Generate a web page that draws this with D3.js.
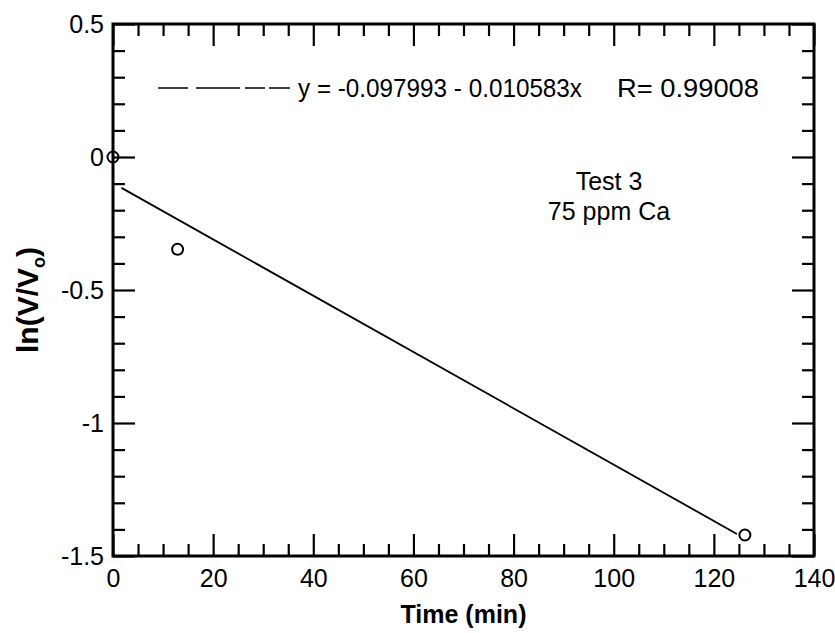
<!DOCTYPE html>
<html>
<head>
<meta charset="utf-8">
<script src="https://cdn.jsdelivr.net/npm/d3@7/dist/d3.min.js"></script>
<style>
  body { margin: 0; background: #fff; }
  svg { font-family: "Liberation Sans", Arial, sans-serif; }
</style>
</head>
<body>
<div id="chart"></div>
<script>
// measured points
const timeMin = [0, 12.9, 126.2];
const lnRatio = [0, -0.347, -1.421];

// fitted line ends
const fitX = [1.7, 124.6];
const fitY = [-0.116, -1.417];

const xTicks = [0, 20, 40, 60, 80, 100, 120, 140];
const yTicks = [0.5, 0, -0.5, -1, -1.5];
const eqText = 'y = -0.097993 - 0.010583x';
const rText = 'R= 0.99008';
const noteLines = ['Test 3', '75 ppm Ca'];

const width = 835, height = 633;
const margin = { top: 24, right: 21, bottom: 77, left: 113 };

const svg = d3.select('#chart').append('svg')
  .attr('width', width)
  .attr('height', height);

const x = d3.scaleLinear().domain([0, 140]).range([margin.left, width - margin.right]);
const y = d3.scaleLinear().domain([-1.5, 0.5]).range([height - margin.bottom, margin.top]);

const minorX = d3.range(0, 141, 5).filter(v => v % 20 !== 0);
const minorY = d3.range(-15, 6, 1).filter(v => v % 5 !== 0).map(v => v / 10);

const majorLen = 22, minorLen = 12;

// ticks, all pointing inward
function tickAxis(axis, side, ticks, len, pad) {
  const g = svg.append('g')
    .attr('transform', side === 'bottom' ? `translate(0,${y(-1.5)})`
      : side === 'top' ? `translate(0,${y(0.5)})`
      : side === 'left' ? `translate(${x(0)},0)` : `translate(${x(140)},0)`)
    .call(axis.tickValues(ticks).tickSizeInner(-len).tickSizeOuter(0).tickPadding(pad || 0)
      .tickFormat(pad ? d => String(d) : () => ''));
  g.select('.domain').remove();
  g.attr('font-family', null);
  g.selectAll('.tick line').attr('stroke', '#000').attr('stroke-width', 2.2);
  g.selectAll('.tick text').attr('fill', '#000').style('font-size', '25px');
  return g;
}

tickAxis(d3.axisBottom(x), 'bottom', xTicks, majorLen, 13);
tickAxis(d3.axisBottom(x), 'bottom', minorX, minorLen);
tickAxis(d3.axisTop(x), 'top', xTicks, majorLen);
tickAxis(d3.axisTop(x), 'top', minorX, minorLen);
tickAxis(d3.axisLeft(y), 'left', yTicks, majorLen, 9);
tickAxis(d3.axisLeft(y), 'left', minorY, minorLen);
tickAxis(d3.axisRight(y), 'right', yTicks, majorLen);
tickAxis(d3.axisRight(y), 'right', minorY, minorLen);

// frame
svg.append('rect')
  .attr('x', x(0)).attr('y', y(0.5))
  .attr('width', x(140) - x(0)).attr('height', y(-1.5) - y(0.5))
  .attr('fill', 'none').attr('stroke', '#000').attr('stroke-width', 3);

// fit line
const line = d3.line().x(d => x(d[0])).y(d => y(d[1]));
svg.append('path')
  .datum(d3.zip(fitX, fitY))
  .attr('d', line)
  .attr('fill', 'none').attr('stroke', '#000').attr('stroke-width', 1.8);

// data markers
svg.selectAll('circle.pt')
  .data(d3.zip(timeMin, lnRatio))
  .enter().append('circle')
  .attr('class', 'pt')
  .attr('cx', d => x(d[0])).attr('cy', d => y(d[1]))
  .attr('r', 5.5)
  .attr('fill', 'none').attr('stroke', '#000').attr('stroke-width', 2);

// legend
svg.append('line')
  .attr('x1', 158).attr('x2', 290).attr('y1', 88).attr('y2', 88)
  .attr('stroke', '#000').attr('stroke-width', 1.6)
  .attr('stroke-dasharray', '30,8,44,5,20,4,21');
svg.append('text')
  .attr('x', 298).attr('y', 97)
  .attr('textLength', 284).attr('lengthAdjust', 'spacingAndGlyphs')
  .style('font-size', '25px')
  .text(eqText);
svg.append('text')
  .attr('x', 617).attr('y', 97)
  .attr('textLength', 142).attr('lengthAdjust', 'spacingAndGlyphs')
  .style('font-size', '25px')
  .text(rText);

// annotation
svg.append('text')
  .attr('text-anchor', 'middle')
  .style('font-size', '25px')
  .selectAll('tspan')
  .data(noteLines)
  .enter().append('tspan')
  .attr('x', 609)
  .attr('y', (d, i) => 190 + i * 30)
  .text(d => d);

// axis titles
svg.append('text')
  .attr('x', (x(0) + x(140)) / 2).attr('y', 623)
  .attr('text-anchor', 'middle')
  .style('font-size', '25px').style('font-weight', 'bold')
  .text('Time (min)');

const yt = svg.append('text')
  .attr('transform', `translate(38,300) rotate(-90)`)
  .attr('text-anchor', 'middle')
  .style('font-size', '30px').style('font-weight', 'bold');
yt.append('tspan').text('ln(V/V');
yt.append('tspan').attr('dy', 7).style('font-size', '18px').text('o');
yt.append('tspan').attr('dy', -7).text(')');
</script>
</body>
</html>
